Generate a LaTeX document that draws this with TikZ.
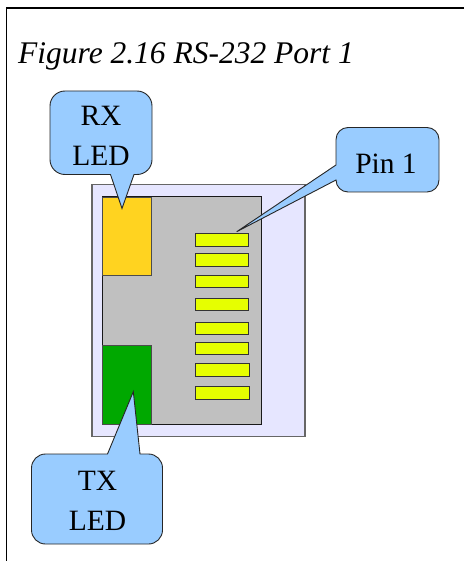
\documentclass[tikz,border=0pt]{standalone}
\usepackage{fontspec}
\setmainfont{Liberation Serif}
\newfontfamily\figserif{Liberation Serif}
\definecolor{calloutblue}{HTML}{99CCFF}
\definecolor{lavender}{HTML}{E6E6FF}
\definecolor{portgray}{HTML}{C0C0C0}
\definecolor{rxcol}{HTML}{FFD320}
\definecolor{txcol}{HTML}{00A800}
\definecolor{pincol}{HTML}{E6FF00}
\begin{document}
\begin{tikzpicture}[x=1pt,y=-1pt,
  frameline/.style={line width=1.5pt,black},
  callout/.style={fill=calloutblue,draw=black!85,line width=0.9pt,line join=miter},
  lbl/.style={inner sep=0pt,anchor=base,font=\figserif\fontsize{29.5}{34}\selectfont},
  pinbox/.style={fill=pincol,draw=black!80,line width=0.9pt},
]
\useasboundingbox (0,0) rectangle (464,561);
% frame (top and left lines)
\draw[frameline] (464,8) -- (6.5,8) -- (6.5,561);
% title
\node[inner sep=0pt,anchor=base west,font=\figserif\fontsize{31.5}{36}\selectfont\itshape] (title) at (18,63.5) {Figure 2.16 RS-232 Port 1};
% port body
\draw[fill=lavender,draw=black!60,line width=1.2pt] (92,184.5) rectangle (305,436.5);
\draw[fill=portgray,draw=black!90,line width=1pt] (102.5,197) rectangle (261,424);
\draw[fill=rxcol,draw=black!70,line width=0.8pt] (102.5,197) rectangle (151.7,275);
\draw[fill=txcol,draw=black!70,line width=0.8pt] (102.5,345.7) rectangle (151.7,424);
% pins
\draw[pinbox] (195,233.3) rectangle (248.3,246);
\draw[pinbox] (195,253.3) rectangle (248.3,266.7);
\draw[pinbox] (195,275) rectangle (248.3,287.7);
\draw[pinbox] (195,298) rectangle (248.3,310.3);
\draw[pinbox] (195,322) rectangle (248.3,334.3);
\draw[pinbox] (195,342) rectangle (248.3,354.7);
\draw[pinbox] (195.7,363.3) rectangle (249.3,376.3);
\draw[pinbox] (195.7,386.3) rectangle (249.3,399);
% RX LED callout
\draw[callout] (134,174.5) -- (137,174.5) .. controls (145.3,174.5) and (152,167.8) .. (152,159.5)
  -- (152,106) .. controls (152,97.7) and (145.3,91) .. (137,91)
  -- (65,91) .. controls (56.7,91) and (50,97.7) .. (50,106)
  -- (50,159.5) .. controls (50,167.8) and (56.7,174.5) .. (65,174.5)
  -- (110.5,174.5) -- (122,208.5) -- cycle;
\node[lbl] (rx1) at (101,126) {RX};
\node[lbl] (rx2) at (101,166) {LED};
% TX LED callout
\draw[callout] (140,454) -- (148.5,454) .. controls (156.2,454) and (162.5,460.3) .. (162.5,468)
  -- (162.5,530) .. controls (162.5,537.7) and (156.2,544) .. (148.5,544)
  -- (45.5,544) .. controls (37.8,544) and (31.5,537.7) .. (31.5,530)
  -- (31.5,468) .. controls (31.5,460.3) and (37.8,454) .. (45.5,454)
  -- (107.5,454) -- (133.3,391.7) -- cycle;
\node[lbl] (tx1) at (97.5,490.7) {TX};
\node[lbl] (tx2) at (97.5,530) {LED};
% Pin 1 callout
\draw[callout] (336,180) .. controls (336,186.6) and (341.4,192) .. (348,192)
  -- (427,192) .. controls (433.6,192) and (439,186.6) .. (439,180)
  -- (439,139.5) .. controls (439,132.9) and (433.6,127.5) .. (427,127.5)
  -- (348,127.5) .. controls (341.4,127.5) and (336,132.9) .. (336,139.5)
  -- (336,165) -- (236.7,231.7) -- cycle;
\node[lbl] (pin1) at (386,173.3) {Pin 1};
\end{tikzpicture}
\end{document}
